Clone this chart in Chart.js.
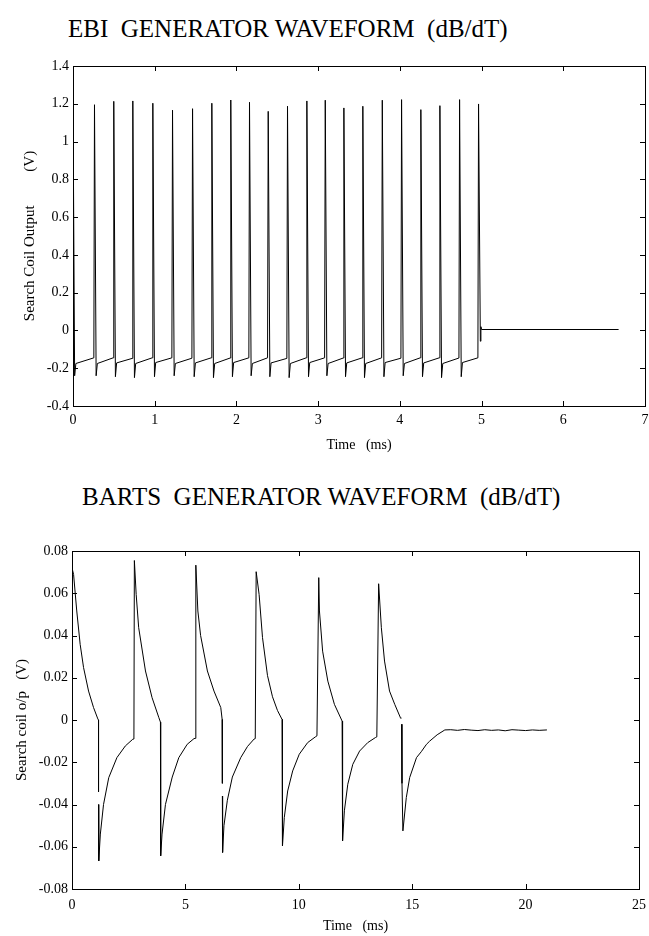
<!DOCTYPE html>
<html>
<head>
<meta charset="utf-8">
<script src="https://cdn.jsdelivr.net/npm/chart.js@4.4.1/dist/chart.umd.min.js"></script>
<style>
  body { margin: 0; background: #fff; }
  #page { position: relative; width: 649px; height: 936px; overflow: hidden; }
  .title { position: absolute; font-family: "Liberation Serif", serif; font-size: 25px; line-height: 25px; white-space: pre; color: #000; }
  canvas { position: absolute; left: 0; }
</style>
</head>
<body>
<div id="page">
  <div class="title" style="left:68px; top:16px;">EBI  GENERATOR WAVEFORM  (dB/dT)</div>
  <canvas id="ebi" width="649" height="470" style="top:0px;"></canvas>
  <div class="title" style="left:82px; top:484px;">BARTS  GENERATOR WAVEFORM  (dB/dT)</div>
  <canvas id="barts" width="649" height="466" style="top:470px;"></canvas>
</div>
<script>
// EBI generator: search coil output (V) against time (ms)
const ebiTime = [
  0, 0.02, 0.035,
  0.255, 0.263, 0.283, 0.298,
  0.491, 0.499, 0.519, 0.534,
  0.724, 0.732, 0.752, 0.767,
  0.969, 0.977, 0.997, 1.012,
  1.210, 1.218, 1.238, 1.253,
  1.455, 1.463, 1.483, 1.498,
  1.691, 1.699, 1.719, 1.734,
  1.923, 1.931, 1.951, 1.966,
  2.152, 2.160, 2.180, 2.195,
  2.381, 2.389, 2.409, 2.424,
  2.617, 2.625, 2.645, 2.660,
  2.854, 2.862, 2.882, 2.897,
  3.079, 3.087, 3.107, 3.122,
  3.307, 3.315, 3.335, 3.350,
  3.539, 3.547, 3.567, 3.582,
  3.777, 3.785, 3.805, 3.820,
  4.013, 4.021, 4.041, 4.056,
  4.249, 4.257, 4.277, 4.292,
  4.482, 4.490, 4.510, 4.525,
  4.723, 4.731, 4.751, 4.766,
  4.955, 4.963, 4.985, 4.992, 5.0, 6.677,
];
const ebiVolts = [
  1.22, -0.24, -0.175,
  -0.145, 1.195, -0.24, -0.175,
  -0.145, 1.213, -0.245, -0.172,
  -0.148, 1.215, -0.25, -0.175,
  -0.145, 1.203, -0.245, -0.17,
  -0.145, 1.166, -0.24, -0.175,
  -0.147, 1.174, -0.245, -0.172,
  -0.145, 1.203, -0.25, -0.175,
  -0.146, 1.22, -0.245, -0.17,
  -0.145, 1.208, -0.24, -0.175,
  -0.145, 1.16, -0.245, -0.172,
  -0.148, 1.187, -0.25, -0.175,
  -0.145, 1.215, -0.245, -0.17,
  -0.145, 1.219, -0.24, -0.175,
  -0.146, 1.178, -0.245, -0.172,
  -0.145, 1.187, -0.25, -0.175,
  -0.145, 1.219, -0.245, -0.17,
  -0.147, 1.222, -0.24, -0.175,
  -0.145, 1.169, -0.245, -0.172,
  -0.145, 1.19, -0.25, -0.175,
  -0.146, 1.222, -0.245, -0.17,
  -0.145, 1.199, -0.057, 0.02, 0.005, 0.005,
];
const ebiXTicks = [0, 1, 2, 3, 4, 5, 6, 7];
const ebiYTicks = [-0.4, -0.2, 0, 0.2, 0.4, 0.6, 0.8, 1, 1.2, 1.4];
const ebiYLabels = ["-0.4", "-0.2", "0", "0.2", "0.4", "0.6", "0.8", "1", "1.2", "1.4"];

// BARTS generator (null = small break in the trace)
const bartsTime = [
  0, 0.07, 0.21, 0.36, 0.51, 0.73, 0.95, 1.14, 1.17, 1.17, 1.17, 1.17, 1.18,
  1.25, 1.39, 1.62, 1.98, 2.35, 2.68, 2.73,
  2.75, 2.83, 2.94, 3.24, 3.53, 3.83, 3.90, 3.91,
  3.97, 4.12, 4.42, 4.71, 5.08, 5.38, 5.43,
  5.46, 5.55, 5.67, 5.97, 6.26, 6.56, 6.62, 6.63, 6.63, 6.63, 6.64,
  6.70, 6.85, 7.07, 7.44, 7.74, 8.03, 8.08,
  8.12, 8.25, 8.40, 8.62, 8.84, 9.06, 9.26, 9.28,
  9.36, 9.51, 9.73, 10.02, 10.39, 10.73, 10.80,
  10.88, 10.91, 11.05, 11.28, 11.57, 11.91, 11.93,
  12.01, 12.16, 12.38, 12.68, 13.04, 13.38, 13.44,
  13.52, 13.64, 13.78, 14.00, 14.23, 14.48, 14.50, 14.52, 14.53, 14.55, 14.59,
  14.74, 14.89, 15.19, 15.40, 15.63, 15.77, 16.10, 16.44,
  16.7, 17.0, 17.3, 17.6, 17.9, 18.2, 18.5, 18.8, 19.1, 19.4, 19.7, 20.0, 20.3, 20.6, 20.94,
];
const bartsVolts = [
  0.072, 0.0689, 0.0516, 0.0358, 0.0248, 0.0137, 0.0059, 0.0005, 0, -0.034, null, -0.04, -0.0667,
  -0.054, -0.04, -0.0273, -0.0178, -0.0123, -0.0091, -0.009,
  0.0755, 0.0594, 0.0437, 0.0232, 0.0106, 0.0011, -0.001, -0.0643,
  -0.054, -0.04, -0.027, -0.0178, -0.0115, -0.0088, -0.0087,
  0.0733, 0.0516, 0.04, 0.0232, 0.0137, 0.0059, 0.0003, -0.03, null, -0.036, -0.0627,
  -0.05, -0.038, -0.027, -0.0178, -0.0125, -0.009, -0.0088,
  0.0702, 0.0594, 0.039, 0.021, 0.011, 0.0045, 0.0003, -0.0596,
  -0.0462, -0.0336, -0.0241, -0.0162, -0.0107, -0.008, -0.0075,
  0.0674, 0.0516, 0.0326, 0.0184, 0.0074, -0.0005, -0.0572,
  -0.043, -0.0304, -0.021, -0.0147, -0.0107, -0.0083, -0.008,
  0.0645, 0.0437, 0.0279, 0.0137, 0.0074, 0.0011, 0.0008, null, -0.002, -0.03, -0.0525,
  -0.0367, -0.0272, -0.0178, -0.015, -0.0115, -0.01, -0.007, -0.0047,
  -0.0046, -0.0049, -0.0045, -0.0048, -0.005, -0.0046, -0.0049, -0.0047, -0.0051, -0.0046, -0.0048, -0.005, -0.0047, -0.0049, -0.0047,
];
const bartsXTicks = [0, 5, 10, 15, 20, 25];
const bartsYTicks = [-0.08, -0.06, -0.04, -0.02, 0, 0.02, 0.04, 0.06, 0.08];
const bartsYLabels = ["-0.08", "-0.06", "-0.04", "-0.02", "0", "0.02", "0.04", "0.06", "0.08"];

const serif = "'Liberation Serif', 'Times New Roman', serif";

// closed frame with inward tick marks on all four sides
const boxTicks = {
  id: "boxTicks",
  afterDraw(chart) {
    const { ctx, chartArea: a, scales } = chart;
    ctx.save();
    ctx.strokeStyle = "#000";
    ctx.lineWidth = 1;
    ctx.strokeRect(a.left + 0.5, a.top + 0.5, a.right - a.left, a.bottom - a.top);
    ctx.beginPath();
    scales.x.ticks.forEach((t) => {
      const px = Math.round(scales.x.getPixelForValue(t.value)) + 0.5;
      ctx.moveTo(px, a.bottom);
      ctx.lineTo(px, a.bottom - 5);
      ctx.moveTo(px, a.top);
      ctx.lineTo(px, a.top + 5);
    });
    scales.y.ticks.forEach((t) => {
      const py = Math.round(scales.y.getPixelForValue(t.value)) + 0.5;
      ctx.moveTo(a.left, py);
      ctx.lineTo(a.left + 5, py);
      ctx.moveTo(a.right, py);
      ctx.lineTo(a.right - 5, py);
    });
    ctx.stroke();
    ctx.restore();
  },
};

function toPoints(xs, ys) {
  return xs.map((x, i) => ({ x: x, y: ys[i] }));
}

function makeChart(id, cfg) {
  const ctx = document.getElementById(id).getContext("2d");
  return new Chart(ctx, {
    type: "scatter",
    data: {
      datasets: [
        {
          data: toPoints(cfg.xs, cfg.ys),
          showLine: true,
          borderColor: "#000",
          borderWidth: 1,
          pointRadius: 0,
          tension: 0,
          spanGaps: false,
        },
      ],
    },
    options: {
      responsive: false,
      animation: false,
      events: [],
      layout: { autoPadding: false, padding: cfg.padding },
      plugins: { legend: { display: false }, tooltip: { enabled: false } },
      scales: {
        x: {
          type: "linear",
          min: cfg.xTicks[0],
          max: cfg.xTicks[cfg.xTicks.length - 1],
          afterBuildTicks: (s) => { s.ticks = cfg.xTicks.map((v) => ({ value: v })); },
          afterFit: (s) => {
            s.height = cfg.xHeight;
            s.paddingLeft = 0;
            s.paddingRight = 0;
          },
          grid: { display: false, drawTicks: false },
          border: { display: false },
          ticks: {
            autoSkip: false,
            maxRotation: 0,
            padding: cfg.xPad,
            color: "#000",
            font: { family: serif, size: 14 },
            callback: (v) => String(v),
          },
          title: {
            display: true,
            text: "Time   (ms)",
            color: "#000",
            font: { family: serif, size: 14 },
            padding: { top: 0, bottom: cfg.xTitlePad },
          },
        },
        y: {
          type: "linear",
          min: cfg.yTicks[0],
          max: cfg.yTicks[cfg.yTicks.length - 1],
          afterBuildTicks: (s) => { s.ticks = cfg.yTicks.map((v) => ({ value: v })); },
          afterFit: (s) => {
            s.width = cfg.yWidth;
            s.paddingTop = 0;
            s.paddingBottom = 0;
          },
          grid: { display: false, drawTicks: false },
          border: { display: false },
          ticks: {
            autoSkip: false,
            padding: 4,
            color: "#000",
            font: { family: serif, size: 14 },
            callback: (v, i) => cfg.yLabels[i],
          },
          title: {
            display: true,
            text: cfg.yTitle,
            color: "#000",
            font: { family: serif, size: 15 },
            padding: { top: cfg.yTitlePad, bottom: 0 },
          },
        },
      },
    },
    plugins: [boxTicks],
  });
}

makeChart("ebi", {
  xs: ebiTime, ys: ebiVolts,
  xTicks: ebiXTicks, yTicks: ebiYTicks, yLabels: ebiYLabels,
  yTitle: "Search Coil Output         (V)",
  padding: { top: 66, right: 4, left: 0, bottom: 0 },
  yWidth: 73, xHeight: 64, xPad: 6, xTitlePad: 16, yTitlePad: 21,
});

makeChart("barts", {
  xs: bartsTime, ys: bartsVolts,
  xTicks: bartsXTicks, yTicks: bartsYTicks, yLabels: bartsYLabels,
  yTitle: "Search coil o/p   (V)",
  padding: { top: 81, right: 10, left: 0, bottom: 0 },
  yWidth: 72, xHeight: 47, xPad: 8, xTitlePad: 1, yTitlePad: 13,
});
</script>
</body>
</html>
